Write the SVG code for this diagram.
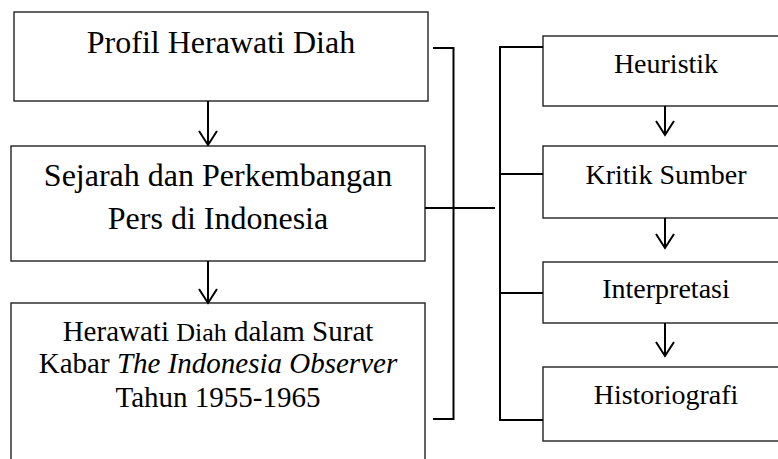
<svg xmlns="http://www.w3.org/2000/svg" width="778" height="459" viewBox="0 0 778 459">
<style>
.box{fill:#fff;stroke:#222;stroke-width:1.4}
.t{font-family:"Liberation Serif","Times New Roman",serif;fill:#000;text-anchor:middle}
.big{font-size:32px}
.mid{font-size:29px}
.sm{font-size:28px}
.c{fill:none;stroke:#000;stroke-width:2}
</style>
<rect width="778" height="459" fill="#fff"/>
<g id="n-profil">
<rect class="box" x="14" y="12" width="414" height="89"/>
<text class="t big" x="221" y="53">Profil Herawati Diah</text>
</g>
<g id="n-sejarah">
<rect class="box" x="11" y="146" width="414" height="115"/>
<text class="t big" x="218" y="186">Sejarah dan Perkembangan</text>
<text class="t big" x="218" y="229">Pers di Indonesia</text>
</g>
<g id="n-herawati">
<rect class="box" x="11" y="303" width="414" height="170"/>
<text class="t mid" x="218" y="341">Herawati <tspan font-size="26">Diah</tspan> dalam Surat</text>
<text class="t mid" x="218" y="373">Kabar <tspan font-style="italic">The Indonesia Observer</tspan></text>
<text class="t mid" x="218" y="407">Tahun 1955-1965</text>
</g>
<g id="n-heuristik">
<rect class="box" x="543" y="36" width="250" height="70"/>
<text class="t sm" x="666" y="73">Heuristik</text>
</g>
<g id="n-kritik">
<rect class="box" x="543" y="146" width="250" height="72"/>
<text class="t sm" x="666" y="184">Kritik Sumber</text>
</g>
<g id="n-interpretasi">
<rect class="box" x="543" y="262" width="250" height="61"/>
<text class="t sm" x="666" y="298">Interpretasi</text>
</g>
<g id="n-historiografi">
<rect class="box" x="543" y="367" width="250" height="74"/>
<text class="t sm" x="666" y="404">Historiografi</text>
</g>
<g id="connectors">
<path class="c" d="M208 101V145M199 131L208 145L217 131"/>
<path class="c" d="M208 261V303M199 289L208 303L217 289"/>
<path class="c" d="M665 106V135M656 121L665 135L674 121"/>
<path class="c" d="M665 218V248M656 234L665 248L674 234"/>
<path class="c" d="M665 323V356M656 342L665 356L674 342"/>
<path class="c" d="M433 48H453.5V419H433"/>
<path class="c" d="M425 208H495"/>
<path class="c" d="M543 47H500V420H543M500 174H543M500 293H543"/>
</g>
</svg>
